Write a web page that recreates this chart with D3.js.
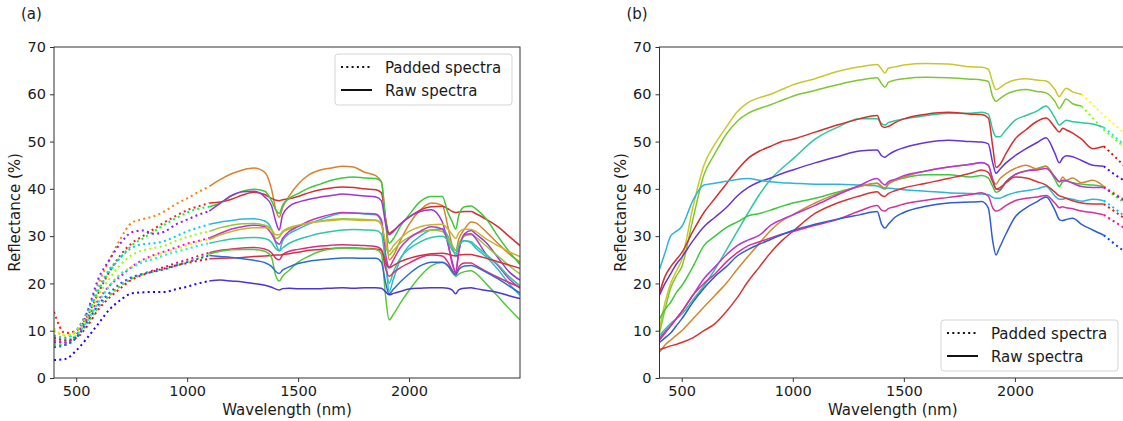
<!DOCTYPE html>
<html>
<head>
<meta charset="utf-8">
<script src="https://cdn.jsdelivr.net/npm/d3@7"></script>
<style>
  body { margin: 0; background: #fff; }
  svg { display: block; font-family: "DejaVu Sans", sans-serif; }
</style>
</head>
<body>
<div id="chart"></div>
<script>
// ---- data: panel (a), padded 400-1100 nm, raw 1100-2500 nm ----
const aWavelengths = [400, 450, 500, 550, 600, 650, 700, 750, 800, 850, 900, 950, 1000, 1050, 1100,
  1150, 1200, 1250, 1300, 1350, 1380, 1400, 1415, 1430, 1460, 1500, 1550, 1600, 1650, 1700,
  1750, 1800, 1850, 1875, 1895, 1910, 1930, 1960, 2000, 2050, 2100, 2150, 2175, 2195, 2210,
  2225, 2250, 2280, 2300, 2350, 2400, 2450, 2500];
const aSplit = 1100;

const aOrange = [9, 8.5, 10, 14, 20, 25, 29.5, 32.8, 33.6, 34.2, 35.3, 36.8, 38, 39.3, 40.5,
  42, 43.2, 44, 44.4, 43.5, 40, 35.5, 34, 36, 38.5, 41, 43, 44, 44.4, 44.8, 44.6, 43.5, 42.8, 41.5, 33,
  25, 26, 29, 32.5, 35.5, 37, 36.5, 32, 28, 27, 29.5, 31.5, 33, 32.8, 30.8, 28.5, 26.3, 24.5];
const aRed = [14, 9.5, 10, 13, 18, 22.5, 26, 28.5, 30, 31.5, 33, 34.3, 35.5, 36.3, 37,
  37.2, 37.8, 38.7, 39.3, 38.8, 38, 37.6, 37.5, 37.7, 37.9, 38.4, 39.2, 39.8, 40.2, 40.4, 40.3, 40, 39.8, 39.2, 33.5,
  30.6, 31.2, 32.5, 34, 35.5, 36.2, 36.3, 35.8, 35.2, 35, 35.1, 35.2, 35.2, 34.8, 33.5, 32, 30, 28];
const aGreen = [8, 7.5, 9, 13, 18.5, 22.5, 25.5, 28, 29.5, 31, 32.5, 33.8, 35, 35.8, 36.2,
  37, 38.5, 39.5, 39.9, 39.5, 37.5, 35.5, 34.8, 36.5, 38, 39, 40.2, 41, 41.8, 42.3, 42.5, 42.3, 42.2, 41.5, 33,
  28.5, 29.5, 32, 34.5, 37.3, 38.4, 38.4, 35, 33, 31.5, 34.5, 36.2, 36.4, 35.8, 33.5, 30, 26.8, 24];
const aPurple = [7.5, 7.5, 9, 14, 21, 25, 28.5, 30.8, 31.2, 30.5, 31, 32.5, 33.5, 34.5, 35.3,
  37, 38.6, 39.4, 39.5, 38.3, 36.5, 33, 31.3, 34.5, 36.3, 37.2, 37.8, 38.3, 38.6, 38.9, 38.7, 38.5, 38.3, 37.5, 32.5,
  30.3, 31, 32.5, 34, 35.2, 35.6, 33, 28.5, 24.5, 22.3, 27, 30.5, 31.2, 30.5, 28.5, 25.5, 22.5, 20.7];
const aCyan = [9, 8.5, 10, 14, 19, 23, 25.5, 27.5, 28.3, 28.5, 29, 30, 31, 31.8, 32.5,
  33, 33.3, 33.6, 33.7, 33.2, 31.5, 28.5, 26.9, 29, 30.5, 31.5, 32.6, 33.5, 34.3, 34.9, 34.9, 34.7, 34.5, 33, 25,
  18.3, 21, 25, 28, 30, 31.3, 31.5, 30, 27.5, 26, 28, 29, 28.5, 27.5, 25.5, 23, 20, 17.5];
const aLime = [10, 9, 10, 13, 17.5, 21, 24, 26, 27, 27.5, 28, 29, 29.8, 30.5, 31,
  31.8, 32.3, 32.6, 32.7, 32.3, 31.5, 29.5, 29.8, 30.8, 31.5, 32.2, 32.8, 33.2, 33.5, 33.7, 33.6, 33.5, 33.4, 32.5, 28,
  26, 27, 28.5, 29.8, 30.8, 31.3, 31, 29.5, 28, 27, 28.5, 30, 30.3, 29.8, 27.8, 25.8, 23.8, 22];
const aMagenta = [8, 7.5, 9, 12.5, 16.5, 19.5, 21.5, 23.5, 25, 26, 26.8, 27.6, 28.4, 29, 29.6,
  30.6, 31.5, 32, 32.3, 32, 30.5, 28.8, 28.3, 29.5, 31, 32, 33.2, 34, 34.6, 35, 34.9, 34.8, 34.7, 33.5, 26,
  23.5, 25, 27.5, 29.5, 31, 32, 31.5, 28.5, 24, 22.5, 27, 30.3, 30.5, 29.5, 26, 23.8, 21, 19];
const aYellow = [10.5, 9, 9.5, 12.5, 16, 19.5, 22, 23.5, 24.8, 25.8, 26.6, 27.3, 28, 28.8, 29.3,
  30.3, 31, 31.5, 31.8, 31.8, 31.3, 30.3, 30.3, 31, 31.8, 32.3, 32.8, 33.1, 33.3, 33.5, 33.4, 33.3, 33.3, 32.5, 28.5,
  26.8, 28, 29.5, 31, 32, 32.4, 32.5, 31.5, 30.3, 29.5, 30.8, 31.5, 31.4, 31, 29.3, 28, 26.7, 25.7];
const aTeal = [8.5, 8, 9, 12, 16, 19.5, 22, 23.3, 24.5, 25.2, 26, 26.7, 27.3, 28, 28.5,
  29, 29.4, 29.6, 29.7, 29.5, 28.7, 27.3, 26.9, 27.5, 28.5, 29.3, 30, 30.6, 31, 31.3, 31.4, 31.3, 31.2, 30.5, 24,
  20, 22.5, 25.3, 27.3, 28.8, 29.7, 30, 29, 27, 26.5, 28, 29, 28.8, 28, 26, 24, 21.5, 19.5];
const aPink = [7, 7, 8.5, 11.5, 15, 17.5, 19.5, 21, 22, 22.8, 23.5, 24.3, 25, 25.8, 26.5,
  27, 27.3, 27.5, 27.6, 27.3, 26.5, 25.3, 25, 26, 26.8, 27.2, 27.6, 27.9, 28.1, 28.2, 28.1, 28, 27.8, 27.2, 23,
  21.5, 22.3, 23.3, 24.3, 25.5, 26, 25.8, 24.5, 22.8, 22, 23.5, 24.3, 24.3, 23.8, 22.5, 21.3, 20.2, 19.2];
const aCrimson = [8.5, 8, 8.5, 11, 14.5, 17, 19, 20.8, 21.8, 22.6, 23.2, 23.8, 24.3, 24.8, 25.2,
  25.3, 25.4, 25.5, 25.7, 25.8, 25.9, 26, 26, 26.1, 26.3, 26.6, 27, 27.2, 27.4, 27.5, 27.5, 27.4, 27.3, 27, 24.5,
  23.3, 23.8, 24.6, 25.3, 25.9, 26.3, 26.4, 26.2, 25.9, 25.8, 26, 26.1, 26.1, 25.9, 25.3, 24.6, 23.9, 23.2];
const aGreenLow = [7, 7, 8.5, 11.5, 15, 17.5, 19.5, 21, 22, 22.5, 23, 23.8, 24.5, 25.3, 26.2,
  26.8, 27.1, 27.2, 27.2, 26.8, 25.5, 21.5, 20.5, 21.5, 22.8, 24.5, 25.8, 26.8, 27.3, 27.5, 27.4, 27.3, 27.2, 26.3, 17,
  12.3, 13.5, 15.8, 18.5, 21.5, 23.7, 24.4, 23.7, 22.3, 21.5, 22, 22.5, 22.7, 22.2, 19.8, 17.3, 14.7, 12.3];
const aBlue = [6.5, 7, 8.5, 12, 15.5, 18, 20, 21.3, 22, 22.5, 23, 23.8, 24.5, 25.2, 25.9,
  25.7, 25.5, 25.2, 24.9, 24.4, 23.6, 22.5, 22.1, 22.8, 23.5, 24.2, 24.7, 25, 25.2, 25.4, 25.4, 25.3, 25.3, 24.5, 20,
  17.8, 18.8, 20.3, 22, 23.7, 24.5, 24.5, 23.8, 22.5, 21.8, 23, 23.7, 23.8, 23.5, 22.3, 21, 19.5, 18];
const aIndigo = [3.8, 4, 5.8, 8.5, 11.5, 14.5, 16.5, 17.9, 18.1, 18.2, 18.2, 18.8, 19.3, 20, 20.5,
  20.7, 20.5, 20.3, 20, 19.6, 19.2, 18.8, 18.6, 18.9, 19, 18.9, 18.9, 18.9, 19, 19.1, 19, 19.1, 19.1, 19, 18.2,
  17.6, 17.9, 18.3, 18.8, 19, 19.1, 19.1, 19, 18.6, 17.8, 18.7, 19, 19.1, 18.9, 18.5, 18.1, 17.4, 16.8];

// ---- data: panel (b), raw from 400 nm, padded after each spectrum's end ----
const bWavelengths = [400, 425, 450, 475, 500, 550, 600, 650, 700, 750, 800, 850, 900, 950, 1000,
  1100, 1200, 1300, 1380, 1400, 1415, 1430, 1460, 1500, 1600, 1700, 1800, 1850, 1880, 1900,
  1915, 1930, 1960, 2000, 2050, 2100, 2140, 2180, 2200, 2215, 2230, 2260, 2300, 2350, 2400,
  2450, 2500];

const bYellow = [10.5, 16, 20, 22.5, 25, 36, 45, 49.5, 53, 56.3, 58.3, 59.3, 60, 61, 62,
  63.3, 64.8, 65.8, 66.3, 65.3, 64.5, 65.5, 65.8, 66.2, 66.5, 66.4, 65.8, 65.7, 65.3, 62.5,
  61, 61.3, 62.3, 63, 63.3, 63, 62.8, 61, 59.5, 60.5, 61.3, 60.5, 60, 57.8, 55.5, 53.5, 51.5];
const bLime = [9.5, 14.5, 19, 21.5, 23.5, 33.5, 43, 47.5, 51.5, 54.3, 56, 57, 57.8, 58.7, 59.6,
  60.8, 62, 63, 63.5, 62.2, 61.5, 62.5, 63, 63.3, 63.6, 63.5, 63.2, 63, 62.7, 59.5,
  58.5, 59, 60, 60.7, 61, 60.6, 60.3, 58.5, 57, 58, 59, 58, 57.5, 55, 52.5, 50.5, 48.5];
const bTeal = [9, 10.3, 11.5, 12.5, 13.5, 16.5, 19.5, 23, 27, 31, 35, 38.8, 42, 44.3, 46.3,
  50.5, 53, 54.8, 54.8, 53.8, 53.5, 54, 54.4, 54.8, 55.5, 56, 56, 56.2, 55.8, 52.5,
  51, 51, 52.5, 54.5, 55.5, 56.5, 57.5, 55, 53.5, 54, 54.5, 54.2, 54, 53.7, 53, 51, 49];
const bRed = [18, 21.5, 23.5, 25, 26.5, 31, 35, 38, 41, 44, 46.5, 48, 49, 50, 50.5,
  52, 53.5, 54.8, 55.5, 53.3, 53, 53.2, 54, 54.8, 55.8, 56.2, 55.8, 55.7, 55, 49,
  44.5, 45, 47.5, 50.5, 52.5, 54.3, 55, 53, 52, 52.8, 52.5, 51.8, 50.5, 48.5, 49, 46.8, 44.5];
const bPurple = [17.5, 20, 22, 24, 25.5, 29, 32, 34, 36, 38.5, 40.3, 41.5, 42.3, 43.2, 44,
  45.5, 46.8, 48, 48.2, 47, 46.7, 47.2, 48, 48.7, 49.8, 50.3, 50, 49.9, 49.5, 45.5,
  43.3, 44, 45.5, 47, 48.5, 49.8, 50.8, 47.5, 45.5, 46.5, 47, 46.8, 46, 45, 44.8, 43, 41.5];
const bCyan = [23, 26.5, 30, 31, 32, 37.5, 40.8, 41.2, 41.6, 42, 42.2, 41.8, 41.5, 41.3, 41.2,
  41, 41, 40.8, 40.6, 40.2, 40, 40.2, 40, 39.8, 39.5, 39.2, 39, 38.9, 38.8, 38.2,
  38, 38, 38.6, 39.2, 39.6, 40, 40.5, 38.5, 37.8, 37.8, 38, 37.8, 37.4, 37.8, 37.5, 35.8, 34];
const bGreen = [12.5, 14.5, 16, 18, 19.5, 23.5, 28, 30, 31.8, 33, 34.3, 34.8, 35.5, 36.3, 37,
  38, 39.3, 40.5, 41.2, 40.5, 40, 41, 41.8, 42.3, 43, 43, 42.5, 42.8, 42.3, 40.5,
  39.3, 39.5, 41.5, 43, 43.8, 44.3, 44.8, 42, 40.5, 41.5, 41.7, 41.3, 41, 40.8, 40.5, 38.5, 37];
const bOrange = [5.5, 7, 8, 9, 10, 12.5, 15, 17.5, 20, 23, 25.8, 28.5, 31.2, 33.2, 34.5,
  37, 39, 40.5, 41.2, 40.5, 40.2, 41, 41.8, 42.5, 43.8, 44.6, 45.2, 45.5, 45, 42,
  41, 42, 43.2, 44.3, 45, 44.2, 44.8, 42.5, 41.5, 42.5, 41.8, 42.3, 41.3, 41.8, 40.5, 39, 37.5];
const bMagenta = [8.5, 9.8, 11, 12.5, 14, 17.5, 21, 23.5, 26, 28, 29.2, 30.2, 32.3, 33.5, 34.5,
  36.5, 38.7, 40.7, 42.2, 41.3, 40.8, 41.5, 42, 42.8, 43.8, 44.6, 45.2, 45.6, 45, 42,
  40, 39.8, 41.5, 43, 43.8, 44, 44.3, 42.5, 41.5, 41.8, 41.7, 41.2, 40.5, 40.3, 40.3, 38.8, 37.3];
const bCrimson = [6, 6.4, 6.8, 7.1, 7.5, 8.5, 10, 11.5, 14, 17, 20.5, 23.5, 26.5, 29, 31,
  34.8, 37, 38.5, 39.4, 38.6, 38.4, 39, 39.6, 40.2, 41.2, 42.2, 43.3, 44, 43.5, 41.5,
  40, 40.2, 41.3, 42.5, 42.3, 41.5, 40.8, 39.3, 38.5, 38.3, 38, 37.5, 37, 36.8, 36.8, 35.2, 33.5];
const bPink = [8, 9.5, 11, 12.5, 14, 17.5, 20, 22, 24.5, 26.5, 28, 28.8, 29.6, 30.4, 31,
  32.3, 33.5, 35.3, 36.5, 35.5, 35.3, 35.8, 36.2, 36.8, 37.6, 38.2, 38.8, 39.2, 38.5, 36,
  35.3, 35.5, 36.5, 37.5, 38, 38.3, 38.6, 37, 36, 36.2, 36, 35.8, 35.3, 35, 34.5, 33, 31.5];
const bBlue = [7.5, 8.5, 9.5, 11, 12.5, 16, 19, 21.5, 23.5, 25.8, 27.2, 28.3, 29.3, 30.3, 31.2,
  32.5, 33.6, 34.5, 35.2, 32.5, 31.7, 32.5, 34, 35, 36.3, 37, 37.2, 37.3, 36, 29,
  26, 27.5, 30.5, 34, 36, 37.3, 38.3, 35.5, 33.5, 33.3, 33.5, 33.8, 32.5, 31.3, 30.2, 28.3, 26.5];
// wavelength where each (b) spectrum stops being measured
const bSplits = [2300, 2300, 2400, 2400, 2400, 2400, 2400, 2400, 2400, 2400, 2400, 2400];

const yTicks = [0, 10, 20, 30, 40, 50, 60, 70];
const xTicks = [500, 1000, 1500, 2000];

// ---- styles ----
const panelA = {
  label: '(a)', left: 54, right: 520, padBefore: true,
  legend: { x: 335, y: 54 },
  series: [
    [aOrange, '#d9822b', '#ff8000'], [aRed, '#d62f2f', '#ff1a1a'], [aGreen, '#3cc83c', '#00ff33'],
    [aPurple, '#9a35d6', '#8c1aff'], [aCyan, '#2db8d6', '#00ccff'], [aLime, '#8fc832', '#99ff00'],
    [aMagenta, '#c435c4', '#ff00ff'], [aYellow, '#c8b42d', '#ffe600'], [aTeal, '#2dc8a5', '#00ffcc'],
    [aPink, '#d6307c', '#ff0080'], [aCrimson, '#d63040', '#ff0026'], [aGreenLow, '#55c83a', '#40ff00'],
    [aBlue, '#2d6bd6', '#0066ff'], [aIndigo, '#4a35d6', '#2200ff']
  ].map(d => ({ values: d[0], color: d[1], padColor: d[2], split: aSplit })),
  wl: aWavelengths
};
const panelB = {
  label: '(b)', left: 659.5, right: 1126, padBefore: false,
  legend: { x: 941, y: 320 },
  series: [
    [bYellow, '#c8c82d', '#ffff00'], [bLime, '#7dc832', '#80ff00'], [bTeal, '#2dc8a0', '#00ffc0'],
    [bRed, '#d62d2d', '#ff0000'], [bPurple, '#6535d6', '#4000ff'], [bCyan, '#2db4d6', '#00c0ff'],
    [bGreen, '#3cc83c', '#00ff00'], [bOrange, '#d4862d', '#ff9000'], [bMagenta, '#b835d6', '#c000ff'],
    [bCrimson, '#d63535', '#ff1010'], [bPink, '#d6309a', '#ff00a0'], [bBlue, '#2d5cd6', '#0040ff']
  ].map((d, i) => ({ values: d[0], color: d[1], padColor: d[2], split: bSplits[i] })),
  wl: bWavelengths
};

const plotTop = 47, plotBottom = 378;

const svg = d3.select('#chart').append('svg')
  .attr('width', 1123).attr('height', 421);

function drawPanel(p, idx) {
  const x = d3.scaleLinear().domain([400, 2500]).range([p.left, p.right]);
  const y = d3.scaleLinear().domain([0, 70]).range([plotBottom, plotTop]);
  const g = svg.append('g');

  g.append('clipPath').attr('id', 'clip' + idx)
    .append('rect').attr('x', p.left).attr('y', plotTop)
    .attr('width', p.right - p.left).attr('height', plotBottom - plotTop);

  const line = d3.line().x(d => x(d[0])).y(d => y(d[1])).curve(d3.curveMonotoneX);
  const plot = g.append('g').attr('clip-path', `url(#clip${idx})`);

  p.series.forEach(s => {
    const pts = p.wl.map((w, i) => [w, s.values[i]]);
    const pad = pts.filter(d => p.padBefore ? d[0] <= s.split : d[0] >= s.split);
    const raw = pts.filter(d => p.padBefore ? d[0] >= s.split : d[0] <= s.split);
    plot.append('path').datum(pad).attr('d', line)
      .attr('fill', 'none').attr('stroke', s.padColor)
      .attr('stroke-width', 2).attr('stroke-dasharray', '2,3.3');
    plot.append('path').datum(raw).attr('d', line)
      .attr('fill', 'none').attr('stroke', s.color)
      .attr('stroke-width', 1.5).attr('stroke-linejoin', 'round');
  });

  // axes
  const xAxis = g.append('g').attr('transform', `translate(0,${plotBottom})`)
    .call(d3.axisBottom(x).tickValues(xTicks).tickFormat(d3.format('d'))
      .tickSize(4).tickPadding(4).tickSizeOuter(0));
  const yAxis = g.append('g').attr('transform', `translate(${p.left},0)`)
    .call(d3.axisLeft(y).tickValues(yTicks).tickFormat(d3.format('d'))
      .tickSize(4).tickPadding(4).tickSizeOuter(0));
  [xAxis, yAxis].forEach(a => {
    a.select('.domain').remove();
    a.selectAll('line').attr('stroke', '#333');
    a.selectAll('text').attr('font-size', 14.5).attr('fill', '#1a1a1a')
      .attr('font-family', '"DejaVu Sans", sans-serif');
  });
  g.append('rect').attr('x', p.left).attr('y', plotTop)
    .attr('width', p.right - p.left).attr('height', plotBottom - plotTop)
    .attr('fill', 'none').attr('stroke', '#333').attr('stroke-width', 1);

  // labels
  g.append('text').attr('x', (p.left + p.right) / 2).attr('y', 415)
    .attr('text-anchor', 'middle').attr('font-size', 15).attr('fill', '#1a1a1a')
    .text('Wavelength (nm)');
  g.append('text')
    .attr('transform', `translate(${p.left - 34},${(plotTop + plotBottom) / 2}) rotate(-90)`)
    .attr('text-anchor', 'middle').attr('font-size', 15).attr('fill', '#1a1a1a')
    .text('Reflectance (%)');
  g.append('text').attr('x', p.left - 33).attr('y', 19)
    .attr('font-size', 15).attr('fill', '#1a1a1a').text(p.label);

  // legend
  const lg = g.append('g').attr('transform', `translate(${p.legend.x},${p.legend.y})`);
  lg.append('rect').attr('width', 177).attr('height', 51).attr('rx', 3)
    .attr('fill', 'white').attr('fill-opacity', 0.8)
    .attr('stroke', '#d5d5d5').attr('stroke-width', 1);
  [['Padded spectra', '2,3.3', 13], ['Raw spectra', null, 36]].forEach(e => {
    lg.append('line').attr('x1', 6).attr('x2', 37).attr('y1', e[2]).attr('y2', e[2])
      .attr('stroke', '#111').attr('stroke-width', 2)
      .attr('stroke-dasharray', e[1]);
    lg.append('text').attr('x', 50).attr('y', e[2] + 5.5)
      .attr('font-size', 15).attr('fill', '#1a1a1a').text(e[0]);
  });
}

drawPanel(panelA, 0);
drawPanel(panelB, 1);
</script>
</body>
</html>
